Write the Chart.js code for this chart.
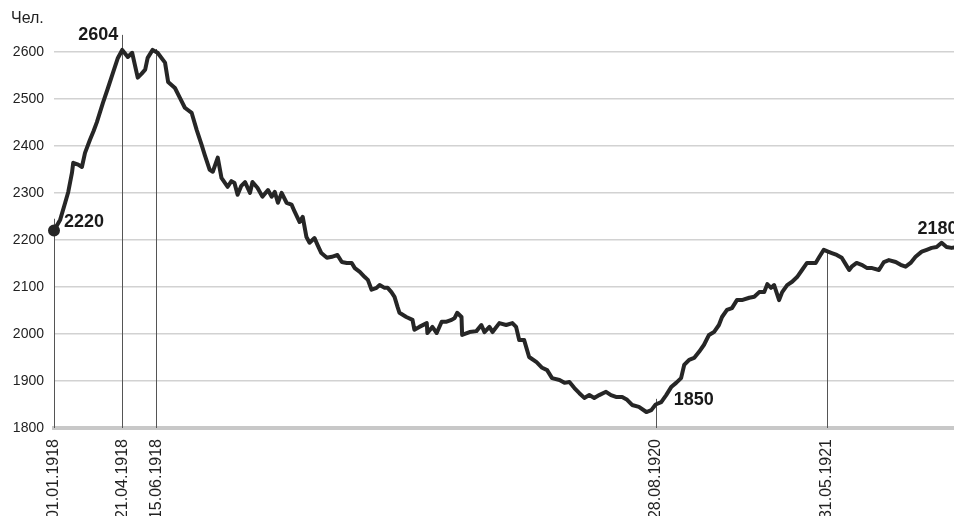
<!DOCTYPE html>
<html>
<head>
<meta charset="utf-8">
<script src="https://cdn.jsdelivr.net/npm/chart.js@4"></script>
<style>
  body { margin: 0; background: #fff; }
  canvas { display: block; }
</style>
</head>
<body>
<canvas id="myChart" width="954" height="516"></canvas>
<script>
// days counted from 01.01.1918
const days = [0, 10, 18, 23, 29, 31, 39, 45, 50, 58, 64, 69, 79, 87, 95, 103, 110, 119, 126, 135,
  141, 147, 151, 159, 167, 179, 184, 195, 203, 211, 222, 230, 238, 243, 251, 256, 264, 270, 280, 286,
  291, 296, 302, 308, 316, 320, 328, 336, 345, 351, 356, 361, 367, 375, 383, 388, 396, 401, 407, 412,
  420, 425, 431, 440, 448, 457, 464, 472, 480, 485, 493, 501, 506, 512, 520, 525, 533, 538, 544, 549,
  554, 557, 568, 578, 581, 589, 601, 602, 610, 617, 625, 633, 641, 646, 650, 657, 658, 670, 681, 689,
  694, 702, 707, 718, 729, 739, 745, 750, 758, 766, 778, 787, 795, 803, 815, 823, 831, 839, 847, 855,
  863, 871, 879, 890, 898, 906, 916, 924, 932, 943, 955, 963, 970, 979, 987, 995, 1003, 1011, 1016, 1024,
  1032, 1040, 1048, 1056, 1064, 1072, 1077, 1085, 1093, 1101, 1109, 1121, 1129, 1137, 1145, 1150, 1156, 1161, 1169, 1174,
  1182, 1190, 1198, 1206, 1214, 1222, 1228, 1233, 1241, 1246, 1254, 1262, 1270, 1277, 1282, 1286, 1294, 1302, 1311, 1319,
  1330, 1338, 1346, 1357, 1365, 1373, 1381, 1389, 1399, 1407, 1415, 1423, 1431, 1439, 1447, 1460];

const people = [2220, 2243, 2279, 2302, 2343, 2364, 2360, 2355, 2385, 2413, 2432, 2450, 2492, 2523, 2555, 2587, 2604, 2589, 2598, 2545,
  2553, 2562, 2587, 2604, 2598, 2577, 2536, 2523, 2502, 2481, 2470, 2434, 2402, 2381, 2349, 2345, 2375, 2332, 2313, 2325,
  2321, 2296, 2315, 2323, 2300, 2323, 2311, 2292, 2306, 2292, 2302, 2279, 2300, 2279, 2275, 2260, 2238, 2249, 2206, 2194,
  2204, 2189, 2172, 2162, 2164, 2168, 2153, 2151, 2151, 2140, 2132, 2121, 2115, 2094, 2098, 2104, 2098, 2098, 2089, 2079,
  2057, 2045, 2036, 2030, 2009, 2015, 2023, 2002, 2015, 2002, 2026, 2026, 2030, 2034, 2045, 2036, 1998, 2004, 2006, 2019,
  2004, 2015, 2004, 2023, 2019, 2023, 2015, 1987, 1987, 1951, 1940, 1928, 1923, 1906, 1902, 1896, 1898, 1885, 1874, 1864,
  1870, 1864, 1870, 1877, 1870, 1866, 1866, 1860, 1849, 1845, 1834, 1838, 1850, 1855, 1870, 1887, 1896, 1906, 1934, 1945,
  1949, 1962, 1977, 1998, 2004, 2019, 2036, 2051, 2055, 2072, 2072, 2077, 2079, 2089, 2089, 2106, 2098, 2104, 2072, 2089,
  2104, 2111, 2121, 2136, 2151, 2151, 2151, 2162, 2179, 2176, 2172, 2168, 2162, 2147, 2136, 2143, 2151, 2147, 2140, 2140,
  2136, 2153, 2157, 2153, 2147, 2143, 2151, 2164, 2175, 2179, 2183, 2185, 2194, 2185, 2183, 2186];

// marked dates (x ticks) and how high their thin lines go
const tickDays = [0, 110, 165, 970, 1246];
const tickLabels = ['01.01.1918', '21.04.1918', '15.06.1918', '28.08.1920', '31.05.1921'];
const markTops = [2245, 2636, 2606, 1862, 2179];

const yTicks = [1800, 1900, 2000, 2100, 2200, 2300, 2400, 2500, 2600];

// value notes
const noteDays = [0, 110, 970, 1460];
const noteVals = [2220, 2604, 1850, 2180];
const noteText = ['2220', '2604', '1850', '2180'];

const FONT = '"Liberation Sans", Arial, sans-serif';

const markLines = {
    id: 'markLines',
    beforeDatasetsDraw(chart) {
        const {ctx, scales: {x, y}} = chart;
        ctx.save();
        ctx.strokeStyle = '#555';
        ctx.lineWidth = 1;
        for (let i = 0; i < tickDays.length; i++) {
            const px = Math.round(x.getPixelForValue(tickDays[i])) + 0.5;
            ctx.beginPath();
            ctx.moveTo(px, y.getPixelForValue(1800));
            ctx.lineTo(px, y.getPixelForValue(markTops[i]));
            ctx.stroke();
        }
        ctx.restore();
    },
    afterDraw(chart) {
        const {ctx, scales: {x, y}} = chart;
        ctx.save();
        ctx.fillStyle = '#222';
        ctx.font = '16px ' + FONT;
        ctx.textBaseline = 'middle';
        ctx.fillText('Чел.', 11, 19);

        ctx.font = 'bold 18px ' + FONT;
        ctx.fillStyle = '#1a1a1a';
        const offs = [[10, -8, 'left'], [-4, -15, 'right'], [18, -4, 'left'], [-42, -20, 'left']];
        for (let i = 0; i < noteDays.length; i++) {
            ctx.textAlign = offs[i][2];
            ctx.fillText(noteText[i],
                x.getPixelForValue(noteDays[i]) + offs[i][0],
                y.getPixelForValue(noteVals[i]) + offs[i][1]);
        }
        ctx.restore();
    }
};

const data = {
    datasets: [{
        label: 'Чел.',
        data: days.map((d, i) => ({x: d, y: people[i]})),
        borderColor: '#262626',
        backgroundColor: '#262626',
        borderWidth: 4,
        borderJoinStyle: 'round',
        tension: 0,
        clip: false,
        pointRadius: ctx => ctx.dataIndex === 0 ? 4 : 0,
        pointHoverRadius: 0
    }]
};

const config = {
    type: 'line',
    data: data,
    options: {
        responsive: false,
        animation: false,
        layout: {autoPadding: false, padding: {top: 33, right: 0, left: 0, bottom: 0}},
        plugins: {
            legend: {display: false},
            tooltip: {enabled: false}
        },
        scales: {
            x: {
                type: 'linear',
                min: 0,
                max: 1451,
                afterBuildTicks: axis => { axis.ticks = tickDays.map(v => ({value: v})); },
                afterFit: axis => {
                    axis.height = 88;
                    axis.paddingLeft = 0;
                    axis.paddingRight = 0;
                },
                grid: {display: false},
                border: {display: true, color: '#c8c8c8', width: 4},
                ticks: {
                    autoSkip: false,
                    minRotation: 90,
                    maxRotation: 90,
                    padding: 3,
                    color: '#222',
                    font: {family: FONT, size: 16},
                    callback: (v) => tickLabels[tickDays.indexOf(v)]
                }
            },
            y: {
                min: 1800,
                max: 2640,
                afterBuildTicks: axis => { axis.ticks = yTicks.map(v => ({value: v})); },
                afterFit: axis => {
                    axis.width = 54;
                    axis.paddingTop = 0;
                    axis.paddingBottom = 0;
                },
                border: {display: false},
                grid: {color: '#d2d2d2', lineWidth: 1.5, drawTicks: false},
                ticks: {
                    padding: 10,
                    color: '#222',
                    font: {family: FONT, size: 14},
                    callback: v => String(v)
                }
            }
        }
    },
    plugins: [markLines]
};

let myChart = new Chart(document.getElementById('myChart'), config);
</script>
</body>
</html>
